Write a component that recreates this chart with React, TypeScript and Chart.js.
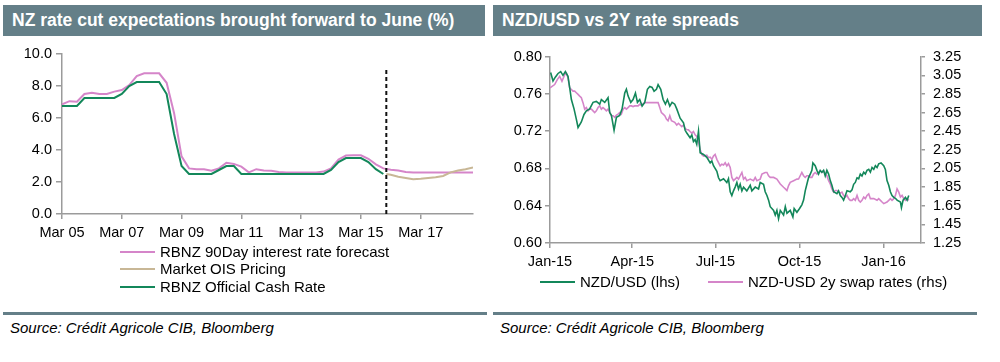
import React, { useEffect, useRef } from "react";
import { Chart, registerables } from "chart.js";

Chart.register(...registerables);

// ---------------- Left chart: NZ rates (quarterly, index 0 = Mar 05) ----------------
const nzTickQuarters = [0, 8, 16, 24, 32, 40, 48];
const nzTickLabels = ["Mar 05", "Mar 07", "Mar 09", "Mar 11", "Mar 13", "Mar 15", "Mar 17"];
const nzLastQuarter = 55;
const nzYTicks = [0, 2, 4, 6, 8, 10];

const rbnz90Day = [
  6.85, 7.05, 7.02, 7.5, 7.58, 7.5, 7.5, 7.65, 7.75, 8.06,
  8.62, 8.79, 8.79, 8.79, 8.2, 6.3, 3.6, 2.85, 2.8, 2.79,
  2.7, 2.85, 3.2, 3.13, 2.96, 2.6, 2.8, 2.72, 2.7, 2.62,
  2.6, 2.6, 2.6, 2.6, 2.6, 2.65, 2.85, 3.4, 3.65, 3.67,
  3.67, 3.45, 3.1, 2.85, 2.77, 2.72, 2.62, 2.6, 2.6, 2.6,
  2.6, 2.6, 2.6, 2.6, 2.6, 2.6,
];

const officialCashRate = [
  6.75, 6.75, 6.75, 7.25, 7.25, 7.25, 7.25, 7.25, 7.5, 8.0,
  8.25, 8.25, 8.25, 8.25, 7.5, 5.0, 3.0, 2.5, 2.5, 2.5,
  2.5, 2.75, 3.0, 3.0, 2.5, 2.5, 2.5, 2.5, 2.5, 2.5,
  2.5, 2.5, 2.5, 2.5, 2.5, 2.5, 2.75, 3.25, 3.5, 3.5,
  3.5, 3.25, 2.8, 2.5,
];

const oisQuarters = [43.4, 44, 45, 46, 47, 48, 49, 50, 51, 52, 53, 54, 55];
const oisPricing = [2.5, 2.45, 2.33, 2.25, 2.17, 2.2, 2.25, 2.3, 2.38, 2.6, 2.72, 2.8, 2.9];

const forecastMarkerQuarter = 43.4;
const forecastMarkerRange = [0, 9.1];

// ---------------- Right chart: NZD/USD vs 2Y spread (day 0 = 1 Jan 2015) ----------------
const fxTickDays = [0, 90, 181, 273, 365];
const fxTickLabels = ["Jan-15", "Apr-15", "Jul-15", "Oct-15", "Jan-16"];
const fxLastDay = 406;
const fxLeftTicks = [0.6, 0.64, 0.68, 0.72, 0.76, 0.8];
const fxRightTicks = [1.25, 1.45, 1.65, 1.85, 2.05, 2.25, 2.45, 2.65, 2.85, 3.05, 3.25];

const nzdUsdDays = [
  0.7, 3.3, 5.8, 8.8, 11.7, 14.2, 16.8, 19.7, 21.5, 23.4,
  26.3, 28.8, 30.7, 34.3, 37.2, 39.8, 43.4, 47.1, 50.7, 54.4,
  56.2, 59.9, 63.5, 65.4, 67.2, 70.1, 72.7, 76.3, 78.9, 81.8,
  83.6, 85.4, 88.4, 90.9, 93.5, 95.7, 98.2, 100.8, 103.7, 106.6,
  109.2, 111.7, 113.9, 116.5, 118.3, 121.2, 123.8, 126.3, 128.5, 131.1,
  133.6, 136.5,
  138.7, 142.4, 146.1, 147.9, 149.7, 153.3, 155.2, 157.0, 158.8, 160.6,
  162.5, 163.6, 164.3, 168.0, 171.6, 175.3, 177.1, 178.9, 182.6, 184.4,
  186.2, 189.9, 193.5, 195.3, 197.2, 199.0, 200.8, 202.6, 204.5, 206.3,
  208.1, 210.0, 211.8, 215.4, 219.1, 220.9, 224.6, 228.2, 230.0, 233.7,
  235.5, 237.4, 239.2, 241.0, 244.7, 246.5, 248.3, 250.1, 252.0, 255.6,
  257.5, 259.3, 262.9,
  265.8, 267.2, 270.2, 273.1, 275.6, 277.5, 279.3, 281.1, 282.9, 284.8,
  286.6, 287.7, 290.2, 292.1, 293.9, 295.7, 297.5, 299.4, 301.2, 303.0,
  304.9, 306.7, 308.5, 310.4, 314.0, 315.8, 317.7, 319.5, 321.3, 323.2,
  325.0, 328.6, 330.5, 332.3, 334.1, 336.0, 337.8, 339.6, 341.4, 343.3,
  345.1, 346.9, 348.8, 350.6, 352.4, 354.3, 356.1, 357.9, 359.7, 362.3,
  365.2, 367.0, 368.8, 370.7, 372.5, 374.3, 376.2, 378.0, 379.8, 383.5,
  384.6, 386.4, 389.0, 390.8, 392.6,
];

const nzdUsd = [
  0.783, 0.774, 0.778, 0.782, 0.784, 0.78, 0.784, 0.779, 0.767, 0.754,
  0.744, 0.733, 0.724, 0.73, 0.738, 0.742, 0.744, 0.751, 0.752, 0.749,
  0.754, 0.751, 0.756, 0.74, 0.737, 0.721, 0.735, 0.737, 0.744, 0.761,
  0.765, 0.758, 0.751, 0.754, 0.761, 0.751, 0.754, 0.747, 0.751, 0.765,
  0.768, 0.767, 0.763, 0.765, 0.77, 0.765, 0.754, 0.749, 0.754, 0.747,
  0.751, 0.749,
  0.744, 0.734, 0.729, 0.721, 0.718, 0.713, 0.716, 0.709, 0.711, 0.706,
  0.72, 0.706, 0.697, 0.695, 0.692, 0.686, 0.688, 0.683, 0.677, 0.67,
  0.667, 0.669, 0.665, 0.669, 0.655, 0.651, 0.656, 0.66, 0.665, 0.658,
  0.663, 0.656, 0.66, 0.656, 0.662, 0.656, 0.66, 0.658, 0.665, 0.663,
  0.655, 0.651, 0.646, 0.639, 0.635, 0.63, 0.635, 0.626, 0.635, 0.63,
  0.639, 0.632, 0.635,
  0.628, 0.637, 0.633, 0.637, 0.641, 0.646, 0.656, 0.663, 0.67, 0.674,
  0.678, 0.686, 0.683, 0.678, 0.674, 0.678, 0.676, 0.678, 0.672, 0.678,
  0.674, 0.667, 0.662, 0.655, 0.653, 0.656, 0.651, 0.649, 0.646, 0.651,
  0.656, 0.655, 0.657, 0.663, 0.665, 0.67, 0.669, 0.674, 0.672, 0.676,
  0.674, 0.678, 0.679, 0.676, 0.681, 0.679, 0.683, 0.681, 0.685, 0.686,
  0.683, 0.679, 0.667, 0.662, 0.655, 0.651, 0.649, 0.648, 0.646, 0.644,
  0.638, 0.646, 0.649, 0.646, 0.651,
];

const swapDays = [
  0, 1.5, 5.1, 8.0, 10.6, 13.1, 16.1, 17.9, 19.7, 21.5,
  23.4, 25.2, 27.0, 28.8, 30.7, 32.5, 34.3, 36.1, 38.0, 39.8,
  41.6, 43.4, 45.3, 47.1, 48.9, 50.7, 52.6, 54.4, 56.2, 58.0,
  59.9, 61.7, 63.5, 65.4, 67.2, 69.0, 70.8, 72.7, 74.5, 76.3,
  78.1, 80.0, 81.8, 83.6, 85.4, 87.3, 89.1, 90.9, 92.7, 96.4,
  98.2, 100.0, 103.7, 107.3, 111.0, 114.6, 118.3, 120.1, 121.9, 123.8,
  125.6, 127.4, 129.2, 131.1, 132.9, 136.5,
  138.7, 140.6, 142.4, 144.2, 146.1, 147.9, 149.7, 151.5, 153.3, 155.2,
  157.0, 158.8, 160.6, 162.5, 164.3, 166.1, 168.0, 171.6, 173.4, 175.3,
  177.1, 178.9, 180.7, 182.6, 184.4, 186.2, 188.0, 189.9, 191.7, 193.5,
  195.3, 197.2, 199.0, 200.8, 202.6, 204.5, 206.3, 208.1, 210.0, 211.8,
  213.6, 215.4, 219.1, 222.7, 224.6, 226.4, 230.0, 231.9, 235.5, 237.4,
  239.2, 241.0, 244.7, 248.3, 252.0, 255.6, 257.5, 259.3, 261.1, 262.9,
  266.6, 270.2,
  272.0, 275.6, 277.5, 279.3, 281.1, 282.9, 284.8, 286.6, 288.4, 290.2,
  292.1, 293.9, 295.7, 297.5, 299.4, 301.2, 303.0, 304.9, 306.7, 308.5,
  310.4, 312.2, 314.0, 315.8, 317.7, 319.5, 321.3, 323.2, 325.0, 326.8,
  328.6, 330.5, 332.3, 334.1, 336.0, 337.8, 339.6, 341.4, 343.3, 345.1,
  346.9, 348.8, 350.6, 352.4, 354.3, 357.9, 359.7, 361.6, 363.4, 365.2,
  368.8, 370.7, 372.5, 374.3, 376.2, 378.0, 379.8, 381.7, 383.5, 385.3,
  387.1, 389.0, 390.8, 392.6,
];

const swapSpread = [
  2.915, 2.926, 2.951, 3.004, 3.039, 2.986, 3.056, 3.074, 3.021, 2.915,
  2.898, 2.88, 2.88, 2.863, 2.845, 2.827, 2.81, 2.757, 2.687, 2.704,
  2.669, 2.687, 2.687, 2.669, 2.651, 2.669, 2.704, 2.722, 2.687, 2.704,
  2.687, 2.669, 2.687, 2.651, 2.616, 2.616, 2.599, 2.623, 2.634, 2.651,
  2.634, 2.687, 2.704, 2.687, 2.704, 2.722, 2.722, 2.715, 2.722, 2.722,
  2.739, 2.729, 2.757, 2.757, 2.757, 2.757, 2.757, 2.704, 2.651, 2.634,
  2.616, 2.581, 2.563, 2.616, 2.563, 2.546,
  2.517, 2.535, 2.517, 2.5, 2.517, 2.482, 2.465, 2.465, 2.447, 2.429,
  2.447, 2.412, 2.394, 2.341, 2.253, 2.2, 2.183, 2.193, 2.165, 2.172,
  2.148, 2.183, 2.2, 2.148, 2.112, 2.077, 2.095, 2.088, 2.112, 2.077,
  2.102, 2.06, 1.954, 1.919, 1.936, 1.954, 1.936, 1.972, 2.007, 1.936,
  1.954, 1.919, 1.936, 1.919, 1.954, 1.919, 1.936, 1.989, 2.007, 2.007,
  1.972, 1.954, 1.954, 1.936, 1.884, 1.848, 1.831, 1.813, 1.866, 1.901,
  1.919, 1.936,
  1.937, 2.007, 1.972, 1.954, 1.972, 1.972, 1.954, 1.954, 1.99, 2.007,
  1.99, 2.007, 2.025, 2.007, 2.025, 1.99, 1.972, 1.919, 1.884, 1.831,
  1.796, 1.814, 1.814, 1.796, 1.785, 1.796, 1.761, 1.743, 1.761, 1.726,
  1.708, 1.708, 1.726, 1.708, 1.761, 1.708, 1.69, 1.708, 1.743, 1.726,
  1.761, 1.778, 1.726, 1.726, 1.726, 1.708, 1.726, 1.708, 1.69, 1.673,
  1.69, 1.708, 1.726, 1.708, 1.726, 1.761, 1.831, 1.796, 1.743, 1.761,
  1.726, 1.708, 1.726, 1.708,
];

// ---------------- styling ----------------
const FONT = '"Liberation Sans", Arial, Helvetica, sans-serif';
const PINK = "#D585C9";
const GREEN = "#13875A";
const TAN = "#C8B796";
const AXIS = "#9B9B9B";
const BAR = "#647F88";
const TICK_SIZE = 14.5;

Chart.defaults.font.family = FONT;
Chart.defaults.color = "#000";

const axisGrid = (len: number) => ({
  drawOnChartArea: false,
  drawTicks: true,
  tickLength: len,
  color: AXIS,
  lineWidth: 1.5,
});
const axisBorder = { color: AXIS, width: 1.5 };

function useChart(ref: React.RefObject<HTMLCanvasElement | null>, makeConfig: () => any) {
  useEffect(() => {
    if (!ref.current) return;
    const chart = new Chart(ref.current, makeConfig());
    return () => chart.destroy();
  }, []);
}

function leftConfig(): any {
  return {
    type: "line",
    data: {
      datasets: [
        {
          label: "marker",
          data: forecastMarkerRange.map((y) => ({ x: forecastMarkerQuarter, y })),
          borderColor: "#111",
          borderWidth: 2,
          borderDash: [4, 3],
          pointRadius: 0,
        },
        {
          label: "RBNZ Official Cash Rate",
          data: officialCashRate.map((y, i) => ({ x: i, y })),
          borderColor: GREEN,
          borderWidth: 2,
          pointRadius: 0,
        },
        {
          label: "Market OIS Pricing",
          data: oisPricing.map((y, i) => ({ x: oisQuarters[i], y })),
          borderColor: TAN,
          borderWidth: 2,
          pointRadius: 0,
        },
        {
          label: "RBNZ 90Day interest rate forecast",
          data: rbnz90Day.map((y, i) => ({ x: i, y })),
          borderColor: PINK,
          borderWidth: 2,
          pointRadius: 0,
        },
      ],
    },
    options: {
      animation: false,
      responsive: false,
      layout: { padding: { top: 14, right: 17, left: 0, bottom: 0 } },
      plugins: { legend: { display: false }, tooltip: { enabled: false } },
      scales: {
        x: {
          type: "linear",
          min: 0,
          max: nzLastQuarter,
          afterBuildTicks: (s: any) => {
            s.ticks = nzTickQuarters.map((v) => ({ value: v }));
          },
          afterFit: (s: any) => {
            s.height = 36;
          },
          ticks: {
            autoSkip: false,
            maxRotation: 0,
            padding: 5,
            font: { size: TICK_SIZE },
            callback: (v: number) => nzTickLabels[nzTickQuarters.indexOf(v)],
          },
          grid: axisGrid(5),
          border: axisBorder,
        },
        y: {
          min: 0,
          max: 10,
          afterBuildTicks: (s: any) => {
            s.ticks = nzYTicks.map((v) => ({ value: v }));
          },
          afterFit: (s: any) => {
            s.width = 62;
          },
          ticks: {
            autoSkip: false,
            padding: 4,
            font: { size: TICK_SIZE },
            callback: (v: number) => Number(v).toFixed(1),
          },
          grid: axisGrid(6),
          border: axisBorder,
        },
      },
    },
  };
}

function rightConfig(): any {
  return {
    type: "line",
    data: {
      datasets: [
        {
          label: "NZD/USD (lhs)",
          data: nzdUsd.map((y, i) => ({ x: nzdUsdDays[i], y })),
          borderColor: GREEN,
          borderWidth: 1.6,
          pointRadius: 0,
          yAxisID: "yL",
        },
        {
          label: "NZD-USD 2y swap rates (rhs)",
          data: swapSpread.map((y, i) => ({ x: swapDays[i], y })),
          borderColor: PINK,
          borderWidth: 1.6,
          pointRadius: 0,
          yAxisID: "yR",
        },
      ],
    },
    options: {
      animation: false,
      responsive: false,
      layout: { padding: { top: 14, right: 0, left: 0, bottom: 0 } },
      plugins: { legend: { display: false }, tooltip: { enabled: false } },
      scales: {
        x: {
          type: "linear",
          min: 0,
          max: fxLastDay,
          afterBuildTicks: (s: any) => {
            s.ticks = fxTickDays.map((v) => ({ value: v }));
          },
          afterFit: (s: any) => {
            s.height = 37;
          },
          ticks: {
            autoSkip: false,
            maxRotation: 0,
            padding: 5,
            font: { size: TICK_SIZE },
            callback: (v: number) => fxTickLabels[fxTickDays.indexOf(v)],
          },
          grid: axisGrid(5),
          border: axisBorder,
        },
        yL: {
          position: "left",
          min: 0.6,
          max: 0.8,
          afterBuildTicks: (s: any) => {
            s.ticks = fxLeftTicks.map((v) => ({ value: v }));
          },
          afterFit: (s: any) => {
            s.width = 60;
          },
          ticks: {
            autoSkip: false,
            padding: 3,
            font: { size: TICK_SIZE },
            callback: (v: number) => Number(v).toFixed(2),
          },
          grid: axisGrid(5),
          border: axisBorder,
        },
        yR: {
          position: "right",
          min: 1.25,
          max: 3.25,
          afterBuildTicks: (s: any) => {
            s.ticks = fxRightTicks.map((v) => ({ value: v }));
          },
          afterFit: (s: any) => {
            s.width = 79;
          },
          ticks: {
            autoSkip: false,
            padding: 8,
            font: { size: TICK_SIZE },
            callback: (v: number) => Number(v).toFixed(2),
          },
          grid: axisGrid(4),
          border: axisBorder,
        },
      },
    },
  };
}

const abs = (s: React.CSSProperties): React.CSSProperties => ({ position: "absolute", ...s });

function LegendRow({ x, y, color, text }: { x: number; y: number; color: string; text: string }) {
  return (
    <>
      <div style={abs({ left: x, top: y - 1, width: 35, height: 2, background: color })} />
      <div
        style={abs({
          left: x + 40,
          top: y - 9,
          height: 18,
          lineHeight: "18px",
          fontSize: 15,
          whiteSpace: "nowrap",
          color: "#000",
        })}
      >
        {text}
      </div>
    </>
  );
}

export default function App() {
  const leftRef = useRef<HTMLCanvasElement | null>(null);
  const rightRef = useRef<HTMLCanvasElement | null>(null);
  useChart(leftRef, leftConfig);
  useChart(rightRef, rightConfig);

  const titleStyle = (left: number, width: number): React.CSSProperties =>
    abs({
      left,
      top: 5,
      width,
      height: 31,
      background: BAR,
      color: "#fff",
      fontWeight: "bold",
      fontSize: 17.5,
      lineHeight: "31px",
      paddingLeft: 9,
      boxSizing: "border-box",
      whiteSpace: "nowrap",
    });
  const sourceStyle = (left: number): React.CSSProperties =>
    abs({ left, top: 319, fontStyle: "italic", fontSize: 15, lineHeight: "18px", whiteSpace: "nowrap" });

  return (
    <div
      style={abs({
        left: 0,
        top: 0,
        width: 1000,
        height: 362,
        background: "#fff",
        fontFamily: FONT,
        overflow: "hidden",
      })}
    >
      <div style={titleStyle(3, 482)}>NZ rate cut expectations brought forward to June (%)</div>
      <div style={titleStyle(493, 489)}>NZD/USD vs 2Y rate spreads</div>

      <canvas ref={leftRef} width={490} height={210} style={abs({ left: 0, top: 40, width: 490, height: 210 })} />
      <canvas ref={rightRef} width={510} height={240} style={abs({ left: 490, top: 40, width: 510, height: 240 })} />

      <LegendRow x={120} y={252} color={PINK} text="RBNZ 90Day interest rate forecast" />
      <LegendRow x={120} y={269} color={TAN} text="Market OIS Pricing" />
      <LegendRow x={120} y={287} color={GREEN} text="RBNZ Official Cash Rate" />

      <LegendRow x={540} y={282} color={GREEN} text="NZD/USD (lhs)" />
      <LegendRow x={708} y={282} color={PINK} text="NZD-USD 2y swap rates (rhs)" />

      <div style={abs({ left: 3, top: 312, width: 484, height: 3, background: BAR })} />
      <div style={abs({ left: 493, top: 312, width: 484, height: 3, background: BAR })} />

      <div style={sourceStyle(10)}>Source: Crédit Agricole CIB, Bloomberg</div>
      <div style={sourceStyle(500)}>Source: Crédit Agricole CIB, Bloomberg</div>
    </div>
  );
}
